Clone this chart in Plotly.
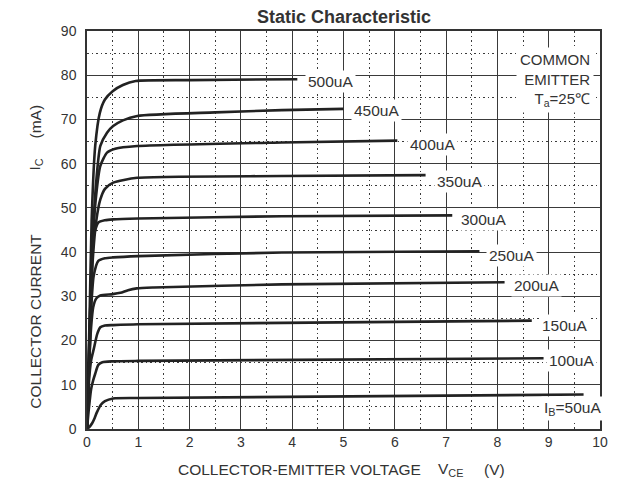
import plotly.graph_objects as go

# ---- data ----
ib_labels = ["500uA", "450uA", "400uA", "350uA", "300uA", "250uA", "200uA", "150uA", "100uA", "I<sub>B</sub>=50uA"]

vce_500 = [0, 0.05, 0.09, 0.16, 0.25, 0.35, 0.5, 0.7, 0.95, 2.0, 4.1]
ic_500 = [0, 25, 47, 64, 71.5, 74.5, 76.4, 77.8, 78.7, 78.9, 79.1]

vce_450 = [0, 0.05, 0.1, 0.18, 0.26, 0.39, 0.51, 0.7, 0.98, 2.5, 3.8, 5.0]
ic_450 = [0, 22, 40, 56, 64, 67, 68.5, 69.8, 70.8, 71.6, 72.1, 72.4]

vce_400 = [0, 0.05, 0.1, 0.18, 0.26, 0.39, 0.55, 0.98, 3.8, 6.05]
ic_400 = [0, 22, 40, 53, 59.5, 62.5, 63.4, 64.0, 64.8, 65.2]

vce_350 = [0, 0.05, 0.1, 0.18, 0.26, 0.35, 0.51, 0.98, 3.8, 6.6]
ic_350 = [0, 20, 36, 47, 51.9, 54.3, 55.7, 56.8, 57.2, 57.4]

vce_300 = [0, 0.05, 0.09, 0.13, 0.22, 0.35, 0.51, 1.0, 3.8, 7.12]
ic_300 = [0, 18, 33, 43.6, 46.7, 47.2, 47.4, 47.6, 48.1, 48.3]

vce_250 = [0, 0.05, 0.09, 0.13, 0.22, 0.35, 0.51, 1.0, 3.8, 7.65]
ic_250 = [0, 17, 29, 34.6, 38.0, 38.6, 38.8, 39.1, 39.9, 40.2]

vce_200 = [0, 0.04, 0.08, 0.12, 0.18, 0.26, 0.5, 0.65, 0.8, 0.97, 1.3, 3.8, 8.14]
ic_200 = [0, 14, 23, 27.5, 29.5, 30.2, 30.5, 30.8, 31.4, 31.8, 32.0, 32.7, 33.2]

vce_150 = [0, 0.04, 0.08, 0.13, 0.2, 0.26, 0.35, 0.51, 1.0, 8.67]
ic_150 = [0, 11, 15.5, 18, 21.5, 23.0, 23.4, 23.5, 23.7, 24.5]

vce_100 = [0, 0.04, 0.08, 0.12, 0.16, 0.22, 0.3, 0.5, 1.0, 8.9]
ic_100 = [0, 5, 9, 11, 12.5, 14.5, 15.1, 15.3, 15.4, 16.0]

vce_50 = [0, 0.05, 0.1, 0.15, 0.19, 0.27, 0.35, 0.51, 1.0, 9.68]
ic_50 = [0, 0.5, 1.3, 2.5, 3.7, 5.5, 6.3, 6.9, 7.0, 7.8]

label_x = [4.74, 5.65, 6.74, 7.27, 7.72, 8.27, 8.76, 9.3, 9.45, 9.47]
label_y = [78.5, 72.0, 64.3, 56.0, 47.4, 39.3, 32.5, 23.5, 15.6, 4.6]

x_ticks = list(range(0, 11))
y_ticks = list(range(0, 91, 10))

curves = [
    (vce_500, ic_500), (vce_450, ic_450), (vce_400, ic_400), (vce_350, ic_350),
    (vce_300, ic_300), (vce_250, ic_250), (vce_200, ic_200), (vce_150, ic_150),
    (vce_100, ic_100), (vce_50, ic_50),
]

FONT = "Liberation Sans, Arial, sans-serif"
TXT = "#333333"
GRID = "#3a3a3a"

fig = go.Figure()
for (xs, ys), name in zip(curves, ib_labels):
    fig.add_trace(go.Scatter(x=xs, y=ys, mode="lines", name=name,
                             line=dict(color="#222222", width=2.6, shape="spline", smoothing=0.6),
                             showlegend=False, hoverinfo="skip"))

for lx, ly, t in zip(label_x, label_y, ib_labels):
    fig.add_annotation(x=lx, y=ly, xref="x", yref="y", text=t, showarrow=False,
                       xanchor="center", yanchor="middle",
                       font=dict(family=FONT, size=15.5, color=TXT), bgcolor="white", borderpad=2)

fig.add_annotation(x=9.88, y=79, xref="x", yref="y", xanchor="right", yanchor="middle",
                   text="COMMON<br>EMITTER<br>T<sub>a</sub>=25℃", align="right", showarrow=False,
                   font=dict(family=FONT, size=15, color=TXT), bgcolor="white", borderpad=3)

# title
fig.add_annotation(x=0.5, y=1.034, xref="paper", yref="paper", text="<b>Static Characteristic</b>",
                   showarrow=False, font=dict(family=FONT, size=18, color=TXT),
                   xanchor="center", yanchor="middle")
# x axis title parts
for xp, t in [(0.415, "COLLECTOR-EMITTER VOLTAGE"), (0.708, "V<sub>CE</sub>"), (0.795, "(V)")]:
    fig.add_annotation(x=xp, y=-0.102, xref="paper", yref="paper", text=t, showarrow=False,
                       font=dict(family=FONT, size=15.5, color=TXT),
                       xanchor="center", yanchor="middle")
# y axis title parts
for yp, t in [(0.27, "COLLECTOR CURRENT"), (0.665, "I<sub>C</sub>"), (0.773, "(mA)")]:
    fig.add_annotation(x=-0.101, y=yp, xref="paper", yref="paper", text=t, showarrow=False,
                       textangle=-90, font=dict(family=FONT, size=15.5, color=TXT),
                       xanchor="center", yanchor="middle")

axis_common = dict(showline=True, mirror=True, linecolor="#333333", linewidth=1.5,
                   showgrid=True, gridcolor=GRID, gridwidth=1, zeroline=False, ticks="",
                   tickfont=dict(family=FONT, size=14, color=TXT))

fig.update_xaxes(range=[0, 10], tickvals=x_ticks,
                 minor=dict(dtick=0.5, showgrid=True, gridcolor=GRID, gridwidth=1.2,
                            griddash="1.5px,3px"),
                 ticklabelstandoff=-1, **axis_common)
fig.update_yaxes(range=[0, 90], tickvals=y_ticks,
                 minor=dict(dtick=5, showgrid=True, gridcolor=GRID, gridwidth=1.2,
                            griddash="1.5px,3px"),
                 ticklabelstandoff=6, **axis_common)

# page body has an 8px default margin, so margins are reduced accordingly
fig.update_layout(width=618, height=488, margin=dict(l=79, r=26, t=23, b=67),
                  paper_bgcolor="white", plot_bgcolor="white", showlegend=False)

fig.write_html("out.html")
